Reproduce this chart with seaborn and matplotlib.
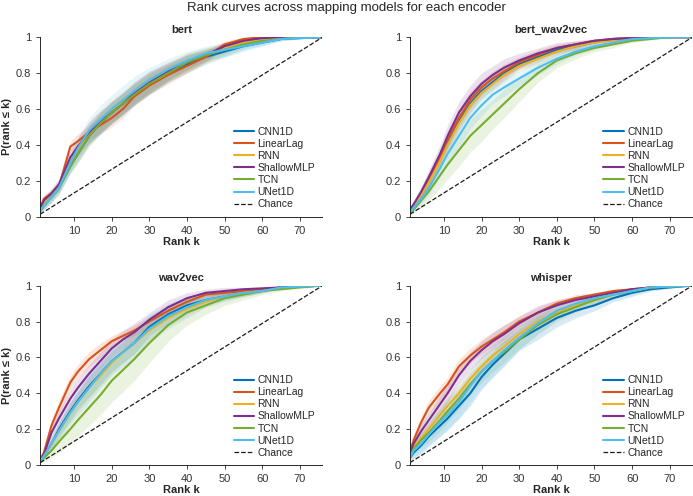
import numpy as np
import pandas as pd
import matplotlib
matplotlib.use("Agg")
import matplotlib.pyplot as plt
import seaborn as sns

# rank grid the curves were read at
ranks = [1, 2, 4, 6, 9, 11, 14, 17, 20, 23, 26, 30, 35, 40, 45, 50, 55, 60, 65, 70, 76]
n_candidates = 76

models = ["CNN1D", "LinearLag", "RNN", "ShallowMLP", "TCN", "UNet1D"]
encoders = ["bert", "bert_wav2vec", "wav2vec", "whisper"]
colors = ["#0072BD", "#D95319", "#EDB120", "#7E2F8E", "#77AC30", "#4DBEEE"]

# mean P(rank <= k) per model
bert_mean = {
    "CNN1D":      [0.03, 0.06, 0.11, 0.16, 0.28, 0.35, 0.45, 0.52, 0.58, 0.63, 0.68, 0.74, 0.80, 0.85, 0.89, 0.92, 0.95, 0.97, 0.99, 0.995, 1.0],
    "LinearLag":  [0.05, 0.10, 0.13, 0.17, 0.39, 0.42, 0.47, 0.51, 0.55, 0.60, 0.67, 0.73, 0.79, 0.84, 0.89, 0.96, 0.99, 1.0, 1.0, 1.0, 1.0],
    "RNN":        [0.04, 0.07, 0.12, 0.17, 0.30, 0.37, 0.46, 0.53, 0.59, 0.64, 0.69, 0.75, 0.81, 0.86, 0.90, 0.94, 0.97, 0.99, 0.995, 1.0, 1.0],
    "ShallowMLP": [0.05, 0.09, 0.13, 0.18, 0.33, 0.39, 0.47, 0.53, 0.58, 0.63, 0.69, 0.75, 0.81, 0.86, 0.90, 0.95, 0.98, 0.995, 1.0, 1.0, 1.0],
    "TCN":        [0.03, 0.06, 0.11, 0.16, 0.28, 0.35, 0.45, 0.52, 0.58, 0.63, 0.68, 0.74, 0.80, 0.86, 0.90, 0.93, 0.96, 0.98, 0.99, 1.0, 1.0],
    "UNet1D":     [0.03, 0.06, 0.11, 0.16, 0.30, 0.38, 0.48, 0.54, 0.60, 0.65, 0.70, 0.76, 0.82, 0.87, 0.91, 0.93, 0.95, 0.97, 0.99, 0.995, 1.0],
}
bert_wav2vec_mean = {
    "CNN1D":      [0.03, 0.06, 0.12, 0.20, 0.32, 0.41, 0.53, 0.63, 0.70, 0.75, 0.80, 0.85, 0.89, 0.93, 0.95, 0.97, 0.99, 0.995, 1.0, 1.0, 1.0],
    "LinearLag":  [0.03, 0.06, 0.13, 0.21, 0.33, 0.43, 0.55, 0.65, 0.72, 0.77, 0.81, 0.86, 0.90, 0.94, 0.96, 0.98, 0.99, 0.995, 1.0, 1.0, 1.0],
    "RNN":        [0.03, 0.06, 0.12, 0.19, 0.31, 0.40, 0.52, 0.62, 0.69, 0.74, 0.79, 0.84, 0.88, 0.92, 0.95, 0.97, 0.98, 0.99, 1.0, 1.0, 1.0],
    "ShallowMLP": [0.04, 0.07, 0.14, 0.22, 0.35, 0.45, 0.58, 0.67, 0.74, 0.79, 0.83, 0.87, 0.91, 0.94, 0.96, 0.98, 0.99, 0.995, 1.0, 1.0, 1.0],
    "TCN":        [0.02, 0.04, 0.09, 0.14, 0.23, 0.29, 0.37, 0.45, 0.51, 0.57, 0.63, 0.71, 0.80, 0.87, 0.91, 0.94, 0.96, 0.98, 0.99, 1.0, 1.0],
    "UNet1D":     [0.02, 0.05, 0.10, 0.16, 0.27, 0.35, 0.45, 0.55, 0.62, 0.68, 0.72, 0.77, 0.83, 0.88, 0.92, 0.95, 0.97, 0.99, 0.995, 1.0, 1.0],
}
wav2vec_mean = {
    "CNN1D":      [0.02, 0.05, 0.12, 0.20, 0.30, 0.36, 0.44, 0.51, 0.58, 0.63, 0.68, 0.77, 0.84, 0.89, 0.92, 0.94, 0.96, 0.97, 0.99, 0.995, 1.0],
    "LinearLag":  [0.03, 0.07, 0.22, 0.32, 0.46, 0.52, 0.59, 0.64, 0.69, 0.72, 0.75, 0.80, 0.86, 0.91, 0.95, 0.96, 0.97, 0.98, 0.99, 0.995, 1.0],
    "RNN":        [0.02, 0.05, 0.12, 0.19, 0.29, 0.35, 0.43, 0.50, 0.57, 0.63, 0.68, 0.75, 0.82, 0.87, 0.91, 0.94, 0.96, 0.97, 0.99, 0.995, 1.0],
    "ShallowMLP": [0.02, 0.06, 0.18, 0.26, 0.37, 0.43, 0.51, 0.58, 0.65, 0.70, 0.74, 0.81, 0.88, 0.93, 0.96, 0.97, 0.98, 0.985, 0.99, 1.0, 1.0],
    "TCN":        [0.02, 0.04, 0.08, 0.13, 0.20, 0.25, 0.32, 0.39, 0.47, 0.53, 0.59, 0.68, 0.78, 0.85, 0.89, 0.93, 0.95, 0.97, 0.98, 0.99, 1.0],
    "UNet1D":     [0.02, 0.05, 0.12, 0.19, 0.29, 0.35, 0.43, 0.51, 0.58, 0.63, 0.68, 0.76, 0.83, 0.88, 0.92, 0.94, 0.96, 0.97, 0.99, 0.995, 1.0],
}
whisper_mean = {
    "CNN1D":      [0.04, 0.07, 0.11, 0.16, 0.22, 0.26, 0.33, 0.40, 0.49, 0.56, 0.62, 0.70, 0.76, 0.82, 0.86, 0.89, 0.93, 0.96, 0.98, 0.99, 1.0],
    "LinearLag":  [0.08, 0.14, 0.24, 0.32, 0.40, 0.45, 0.55, 0.61, 0.66, 0.70, 0.74, 0.80, 0.85, 0.90, 0.93, 0.95, 0.97, 0.98, 0.99, 1.0, 1.0],
    "RNN":        [0.06, 0.10, 0.15, 0.20, 0.28, 0.33, 0.40, 0.48, 0.55, 0.61, 0.66, 0.73, 0.80, 0.85, 0.89, 0.92, 0.95, 0.97, 0.99, 0.995, 1.0],
    "ShallowMLP": [0.07, 0.12, 0.19, 0.25, 0.34, 0.40, 0.50, 0.58, 0.64, 0.69, 0.73, 0.79, 0.85, 0.89, 0.92, 0.94, 0.96, 0.98, 0.99, 1.0, 1.0],
    "TCN":        [0.05, 0.09, 0.14, 0.18, 0.25, 0.30, 0.37, 0.45, 0.52, 0.58, 0.63, 0.70, 0.78, 0.84, 0.88, 0.92, 0.95, 0.97, 0.99, 0.995, 1.0],
    "UNet1D":     [0.04, 0.08, 0.12, 0.17, 0.24, 0.28, 0.35, 0.44, 0.52, 0.58, 0.64, 0.71, 0.79, 0.86, 0.90, 0.93, 0.95, 0.97, 0.99, 0.995, 1.0],
}

# half-width of the shaded band (std across subjects)
bert_sd = {
    "CNN1D":      [0.01, 0.02, 0.03, 0.03, 0.04, 0.05, 0.05, 0.06, 0.06, 0.06, 0.06, 0.06, 0.05, 0.05, 0.04, 0.03, 0.02, 0.015, 0.01, 0.005, 0.0],
    "LinearLag":  [0.01, 0.02, 0.02, 0.03, 0.03, 0.04, 0.04, 0.05, 0.05, 0.05, 0.05, 0.05, 0.05, 0.04, 0.03, 0.02, 0.01, 0.005, 0.0, 0.0, 0.0],
    "RNN":        [0.01, 0.02, 0.03, 0.03, 0.04, 0.05, 0.06, 0.06, 0.06, 0.06, 0.06, 0.06, 0.05, 0.05, 0.04, 0.03, 0.02, 0.01, 0.005, 0.0, 0.0],
    "ShallowMLP": [0.01, 0.02, 0.03, 0.03, 0.04, 0.05, 0.06, 0.06, 0.06, 0.06, 0.06, 0.06, 0.05, 0.04, 0.03, 0.02, 0.01, 0.005, 0.0, 0.0, 0.0],
    "TCN":        [0.01, 0.02, 0.03, 0.03, 0.04, 0.05, 0.06, 0.06, 0.06, 0.06, 0.06, 0.06, 0.05, 0.05, 0.04, 0.03, 0.02, 0.01, 0.005, 0.0, 0.0],
    "UNet1D":     [0.01, 0.02, 0.03, 0.04, 0.05, 0.06, 0.07, 0.08, 0.08, 0.08, 0.08, 0.07, 0.06, 0.05, 0.04, 0.04, 0.03, 0.02, 0.01, 0.005, 0.0],
}
bert_wav2vec_sd = {
    "CNN1D":      [0.01, 0.02, 0.03, 0.04, 0.04, 0.05, 0.05, 0.05, 0.04, 0.04, 0.04, 0.03, 0.03, 0.02, 0.02, 0.01, 0.01, 0.005, 0.0, 0.0, 0.0],
    "LinearLag":  [0.01, 0.02, 0.03, 0.04, 0.04, 0.05, 0.05, 0.05, 0.04, 0.04, 0.04, 0.03, 0.03, 0.02, 0.02, 0.01, 0.01, 0.005, 0.0, 0.0, 0.0],
    "RNN":        [0.01, 0.02, 0.03, 0.03, 0.04, 0.04, 0.05, 0.05, 0.04, 0.04, 0.04, 0.03, 0.03, 0.02, 0.02, 0.01, 0.01, 0.005, 0.0, 0.0, 0.0],
    "ShallowMLP": [0.01, 0.02, 0.03, 0.04, 0.05, 0.06, 0.06, 0.06, 0.06, 0.05, 0.05, 0.04, 0.03, 0.03, 0.02, 0.01, 0.01, 0.005, 0.0, 0.0, 0.0],
    "TCN":        [0.01, 0.02, 0.04, 0.05, 0.07, 0.08, 0.09, 0.09, 0.09, 0.08, 0.08, 0.07, 0.05, 0.04, 0.03, 0.02, 0.02, 0.01, 0.005, 0.0, 0.0],
    "UNet1D":     [0.01, 0.02, 0.03, 0.04, 0.05, 0.05, 0.06, 0.06, 0.06, 0.05, 0.05, 0.04, 0.04, 0.03, 0.02, 0.02, 0.01, 0.005, 0.0, 0.0, 0.0],
}
wav2vec_sd = {
    "CNN1D":      [0.01, 0.02, 0.03, 0.04, 0.05, 0.05, 0.06, 0.06, 0.06, 0.06, 0.06, 0.05, 0.05, 0.04, 0.03, 0.02, 0.02, 0.01, 0.005, 0.0, 0.0],
    "LinearLag":  [0.01, 0.02, 0.03, 0.04, 0.04, 0.04, 0.04, 0.04, 0.03, 0.03, 0.03, 0.03, 0.03, 0.02, 0.02, 0.01, 0.01, 0.005, 0.0, 0.0, 0.0],
    "RNN":        [0.01, 0.02, 0.03, 0.04, 0.05, 0.05, 0.06, 0.06, 0.06, 0.06, 0.06, 0.05, 0.05, 0.04, 0.03, 0.02, 0.02, 0.01, 0.005, 0.0, 0.0],
    "ShallowMLP": [0.01, 0.02, 0.03, 0.04, 0.05, 0.05, 0.05, 0.05, 0.05, 0.05, 0.05, 0.04, 0.04, 0.03, 0.02, 0.02, 0.01, 0.005, 0.0, 0.0, 0.0],
    "TCN":        [0.01, 0.02, 0.04, 0.06, 0.08, 0.09, 0.10, 0.11, 0.12, 0.12, 0.12, 0.11, 0.09, 0.07, 0.05, 0.04, 0.03, 0.02, 0.01, 0.005, 0.0],
    "UNet1D":     [0.01, 0.02, 0.04, 0.05, 0.06, 0.07, 0.08, 0.08, 0.08, 0.08, 0.08, 0.08, 0.07, 0.06, 0.04, 0.03, 0.02, 0.01, 0.005, 0.0, 0.0],
}
whisper_sd = {
    "CNN1D":      [0.02, 0.03, 0.04, 0.05, 0.06, 0.06, 0.07, 0.07, 0.07, 0.07, 0.07, 0.06, 0.06, 0.05, 0.04, 0.03, 0.02, 0.02, 0.01, 0.005, 0.0],
    "LinearLag":  [0.02, 0.03, 0.03, 0.04, 0.04, 0.04, 0.04, 0.04, 0.04, 0.04, 0.04, 0.03, 0.03, 0.02, 0.02, 0.01, 0.01, 0.005, 0.0, 0.0, 0.0],
    "RNN":        [0.02, 0.03, 0.04, 0.04, 0.05, 0.05, 0.05, 0.05, 0.05, 0.05, 0.05, 0.04, 0.04, 0.03, 0.02, 0.02, 0.01, 0.005, 0.0, 0.0, 0.0],
    "ShallowMLP": [0.02, 0.03, 0.04, 0.04, 0.05, 0.05, 0.05, 0.05, 0.05, 0.05, 0.05, 0.04, 0.04, 0.03, 0.02, 0.02, 0.01, 0.005, 0.0, 0.0, 0.0],
    "TCN":        [0.02, 0.03, 0.04, 0.05, 0.06, 0.06, 0.06, 0.06, 0.06, 0.06, 0.06, 0.05, 0.05, 0.04, 0.03, 0.02, 0.02, 0.01, 0.005, 0.0, 0.0],
    "UNet1D":     [0.02, 0.04, 0.06, 0.07, 0.08, 0.09, 0.09, 0.09, 0.09, 0.09, 0.08, 0.07, 0.06, 0.05, 0.04, 0.03, 0.02, 0.02, 0.01, 0.005, 0.0],
}

means = {"bert": bert_mean, "bert_wav2vec": bert_wav2vec_mean, "wav2vec": wav2vec_mean, "whisper": whisper_mean}
sds = {"bert": bert_sd, "bert_wav2vec": bert_wav2vec_sd, "wav2vec": wav2vec_sd, "whisper": whisper_sd}

rows = []
for enc in encoders:
    for m in models:
        for k, p, s in zip(ranks, means[enc][m], sds[enc][m]):
            rows.append({"encoder": enc, "model": m, "rank": k, "p": p, "sd": s})
df = pd.DataFrame(rows)

sns.set_theme(style="white")
plt.rcParams["font.family"] = ["Liberation Sans", "DejaVu Sans"]
plt.rcParams["axes.edgecolor"] = "#262626"
plt.rcParams["xtick.color"] = "#262626"
plt.rcParams["ytick.color"] = "#262626"

fig, axes = plt.subplots(2, 2, figsize=(6.93, 4.96), dpi=100)
fig.subplots_adjust(left=0.058, right=0.999, top=0.925, bottom=0.0625, wspace=0.31, hspace=0.385)
palette = dict(zip(models, colors))

for ax, enc in zip(axes.flat, encoders):
    sub = df[df["encoder"] == enc]
    for m in models:
        d = sub[sub["model"] == m]
        lo = np.clip(d["p"] - d["sd"], 0, 1)
        hi = np.clip(d["p"] + d["sd"], 0, 1)
        ax.fill_between(d["rank"], lo, hi, color=palette[m], alpha=0.15, lw=0)
    sns.lineplot(data=sub, x="rank", y="p", hue="model", hue_order=models,
                 palette=palette, estimator=None, errorbar=None, lw=1.5, ax=ax)
    chance_k = np.array([1, n_candidates])
    ax.plot(chance_k, chance_k / n_candidates, "k--", lw=0.9, label="Chance")

    ax.set_xlim(1, n_candidates)
    ax.set_ylim(0, 1)
    ax.set_xticks([10, 20, 30, 40, 50, 60, 70])
    ax.set_yticks([0, 0.2, 0.4, 0.6, 0.8, 1])
    ax.set_yticklabels(["0", "0.2", "0.4", "0.6", "0.8", "1"])
    ax.tick_params(axis="both", labelsize=8, direction="out", length=3, width=0.6,
                   bottom=True, left=True, labelcolor="#333333")
    for side in ["top", "right"]:
        ax.spines[side].set_visible(False)
    for side in ["left", "bottom"]:
        ax.spines[side].set_linewidth(0.7)
    ax.set_title(enc, fontsize=8, fontweight="bold", pad=3)
    ax.set_xlabel("Rank k", fontsize=8, fontweight="bold", labelpad=1)
    if enc in ("bert", "wav2vec"):
        ax.set_ylabel("P(rank ≤ k)", fontsize=8, fontweight="bold", labelpad=3)
    else:
        ax.set_ylabel("")
    ax.legend(loc="lower right", bbox_to_anchor=(1.0, 0.0), frameon=False, fontsize=7.5,
              handlelength=2.0, handletextpad=0.3, labelspacing=0.2, borderaxespad=0.3)

fig.suptitle("Rank curves across mapping models for each encoder", fontsize=9.5, y=0.995)
fig.savefig("out.png", dpi=100)
